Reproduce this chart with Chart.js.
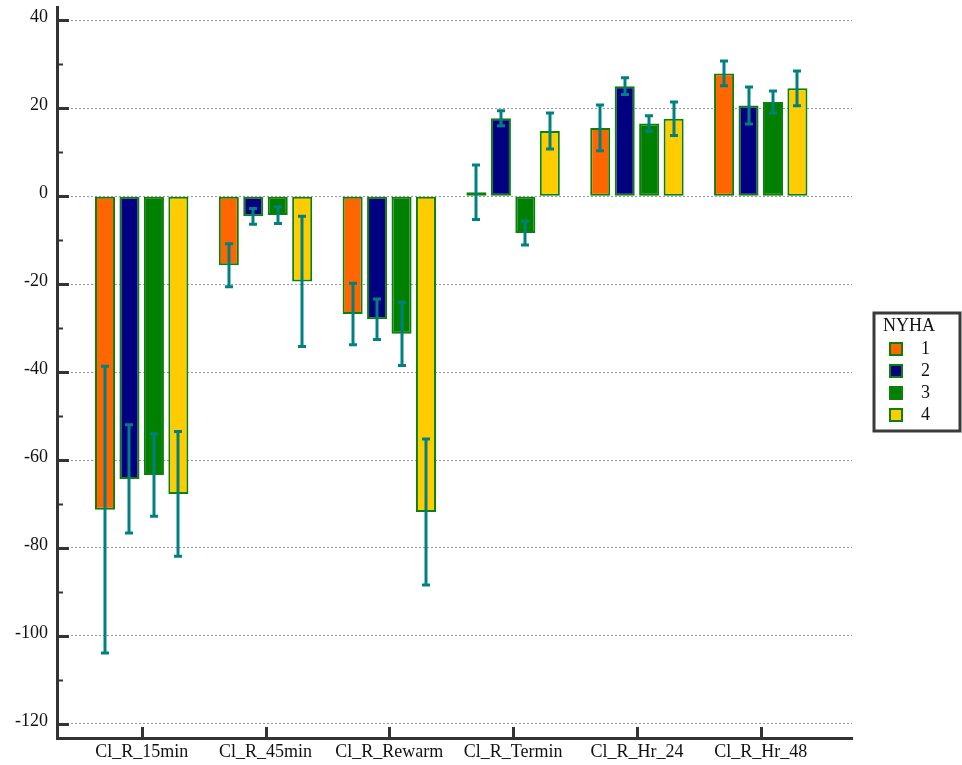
<!DOCTYPE html>
<html>
<head>
<meta charset="utf-8">
<style>
  html, body { margin: 0; padding: 0; background: #ffffff; }
  #wrap { width: 962px; height: 765px; position: relative; }
</style>
<script src="https://cdn.jsdelivr.net/npm/chart.js@4/dist/chart.umd.min.js"></script>
</head>
<body>
<div id="wrap"><canvas id="chart" width="962" height="765"></canvas></div>
<script>
// Group means and standard errors by NYHA class
const categories = ['Cl_R_15min', 'Cl_R_45min', 'Cl_R_Rewarm', 'Cl_R_Termin', 'Cl_R_Hr_24', 'Cl_R_Hr_48'];
const seriesNames = ['1', '2', '3', '4'];
const nyha1 = [-71.3, -15.7, -26.8, 0.9, 15.5, 27.9];
const nyha1Err = [32.6, 4.9, 7.0, 6.2, 5.2, 2.8];
const nyha2 = [-64.3, -4.6, -28.0, 17.7, 25.0, 20.6];
const nyha2Err = [12.3, 1.8, 4.6, 1.7, 1.9, 4.2];
const nyha3 = [-63.4, -4.3, -31.3, -8.4, 16.5, 21.4];
const nyha3Err = [9.4, 1.9, 7.2, 2.7, 1.75, 2.5];
const nyha4 = [-67.7, -19.4, -71.8, 14.8, 17.6, 24.5];
const nyha4Err = [14.2, 14.8, 16.6, 4.1, 3.8, 3.95];
const yTicks = [-120, -100, -80, -60, -40, -20, 0, 20, 40];

const fills = ['#ff6600', '#000080', '#008000', '#ffcc00'];
const edge = '#0b800b';
const axisColor = '#333333';
const errColor = '#008080';
const FONT = '"Liberation Serif", "Times New Roman", serif';

const values = [nyha1, nyha2, nyha3, nyha4];
const errors = [nyha1Err, nyha2Err, nyha3Err, nyha4Err];

const datasets = values.map((vals, s) => ({
  label: seriesNames[s],
  data: vals.map((v, i) => ({ x: i, y: v })),
  errors: errors[s],
  backgroundColor: fills[s],
  borderColor: edge,
  borderWidth: 2,
  borderSkipped: false,
  categoryPercentage: 0.79,
  barPercentage: 0.82
}));

// Error bars, inward tick marks and the boxed legend
const decorations = {
  id: 'decorations',
  afterDatasetsDraw(chart) {
    const ctx = chart.ctx;
    const yScale = chart.scales.y;
    ctx.save();
    ctx.strokeStyle = errColor;
    chart.data.datasets.forEach((ds, di) => {
      const meta = chart.getDatasetMeta(di);
      meta.data.forEach((bar, i) => {
        const v = ds.data[i].y;
        const e = ds.errors[i];
        const yHi = yScale.getPixelForValue(v + e);
        const yLo = yScale.getPixelForValue(v - e);
        const x = Math.round(bar.x);
        ctx.lineWidth = 3;
        ctx.beginPath();
        ctx.moveTo(x, yHi);
        ctx.lineTo(x, yLo);
        ctx.stroke();
        ctx.beginPath();
        ctx.moveTo(x - 4, yHi); ctx.lineTo(x + 4, yHi);
        ctx.moveTo(x - 4, yLo); ctx.lineTo(x + 4, yLo);
        ctx.stroke();
      });
    });
    ctx.restore();
  },
  afterDraw(chart) {
    const ctx = chart.ctx;
    const area = chart.chartArea;
    const yScale = chart.scales.y;
    const xScale = chart.scales.x;
    ctx.save();
    ctx.strokeStyle = axisColor;
    // y-axis ticks: major every 20, minor between
    for (let v = -120; v <= 40; v += 10) {
      const y = Math.round(yScale.getPixelForValue(v)) + 0.5;
      const major = v % 20 === 0;
      ctx.lineWidth = major ? 3 : 2;
      ctx.beginPath();
      ctx.moveTo(area.left, y);
      ctx.lineTo(area.left + (major ? 12 : 6), y);
      ctx.stroke();
    }
    // x-axis ticks at each category
    ctx.lineWidth = 3;
    categories.forEach((c, i) => {
      const x = Math.round(xScale.getPixelForValue(i)) + 0.5;
      ctx.beginPath();
      ctx.moveTo(x, area.bottom);
      ctx.lineTo(x, area.bottom - 11);
      ctx.stroke();
    });

    // legend box
    const lx = 874, ly = 313, lw = 86, lh = 118;
    ctx.fillStyle = '#ffffff';
    ctx.fillRect(lx, ly, lw, lh);
    ctx.lineWidth = 3;
    ctx.strokeStyle = '#3a3a3a';
    ctx.strokeRect(lx, ly, lw, lh);
    ctx.fillStyle = '#111111';
    ctx.font = '18px ' + FONT;
    ctx.textBaseline = 'middle';
    ctx.textAlign = 'left';
    ctx.fillText('NYHA', 883, 326);
    chart.data.datasets.forEach((ds, i) => {
      const cy = 349 + i * 22;
      ctx.fillStyle = ds.backgroundColor;
      ctx.fillRect(889, cy - 7, 14, 14);
      ctx.lineWidth = 2;
      ctx.strokeStyle = edge;
      ctx.strokeRect(890, cy - 6, 12, 12);
      ctx.fillStyle = '#111111';
      ctx.fillText(ds.label, 921, cy);
    });
    ctx.restore();
  }
};

new Chart(document.getElementById('chart'), {
  type: 'bar',
  data: { datasets },
  options: {
    responsive: false,
    animation: false,
    layout: { padding: { left: 0, top: 7, right: 110, bottom: 0 } },
    plugins: { legend: { display: false }, tooltip: { enabled: false } },
    scales: {
      x: {
        type: 'linear',
        offset: false,
        min: -0.684,
        max: 5.737,
        grid: { display: false, drawTicks: false },
        border: { display: true, color: axisColor, width: 3 },
        afterBuildTicks(scale) { scale.ticks = categories.map((c, i) => ({ value: i })); },
        afterFit(scale) { scale.height = 27; scale.paddingLeft = 0; scale.paddingRight = 0; },
        ticks: {
          autoSkip: false,
          maxRotation: 0,
          padding: 3,
          color: '#111111',
          font: { family: FONT, size: 18 },
          callback: (v) => categories[v]
        }
      },
      y: {
        type: 'linear',
        min: -123.2,
        max: 43,
        grid: { color: '#9a9a9a', lineWidth: 1, drawTicks: false },
        border: { display: true, color: axisColor, width: 3, dash: [2, 2] },
        afterBuildTicks(scale) { scale.ticks = yTicks.map(v => ({ value: v })); },
        afterFit(scale) { scale.width = 57; scale.paddingTop = 0; scale.paddingBottom = 0; },
        ticks: {
          padding: 9,
          labelOffset: -3,
          color: '#111111',
          font: { family: FONT, size: 18 }
        }
      }
    }
  },
  plugins: [decorations]
});
</script>
</body>
</html>
